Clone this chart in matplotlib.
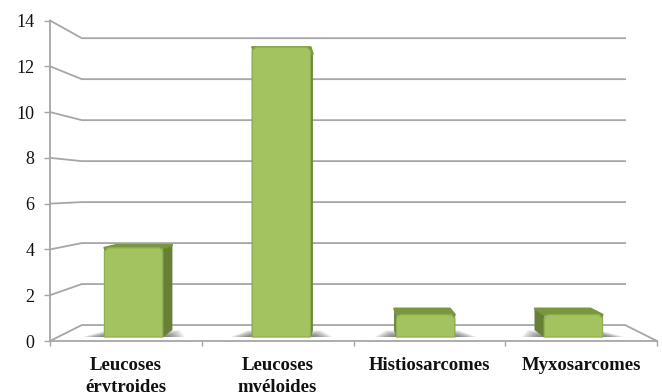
import numpy as np
import matplotlib
matplotlib.use('Agg')
import matplotlib.pyplot as plt
from matplotlib.patches import Polygon

categories = ['Leucoses\nérytroides', 'Leucoses\nmyéloides', 'Histiosarcomes', 'Myxosarcomes']
valeurs = [4, 13, 1, 1]
graduations = [0, 2, 4, 6, 8, 10, 12, 14]

GRIS = '#a6a6a6'
VERT_FACE = '#a2c35f'
VERT_BORD = '#8fb04e'
VERT_COTE = '#677f36'
VERT_HAUT = '#7a963f'

plt.rcParams['font.family'] = ['Liberation Serif', 'DejaVu Serif']

fig = plt.figure(figsize=(6.62, 3.92), dpi=100)
ax = fig.add_axes([50/662, (392-341)/392, 607/662, 320.5/392])
ax.set_xlim(0, 4)
ax.set_ylim(0, 14)

# point de fuite de la perspective, en unites des axes
cx, cy = 1.997, 6.64
recul = 0.105


def proj(x, v, d):
    # d=0 plan avant, d=1 mur du fond
    s = 1 - recul*d
    return (cx + (x-cx)*s, cy + (v-cy)*s)


# mur du fond et plancher
for g in graduations:
    pts = [proj(0, g, 0), proj(0, g, 1), proj(4, g, 1)]
    if g == 0:
        pts.append(proj(4, 0, 0))
    ax.plot(*zip(*pts), color=GRIS, lw=1.3, clip_on=False, zorder=1, solid_joinstyle='miter')

larg = 0.395
d1, d2 = 0.25, 0.70

for i, val in enumerate(valeurs):
    x1 = i + 0.5 - larg/2 + (0.012 if i < 2 else -0.012)
    x2 = x1 + larg

    # ombre portee sur le plancher, plus foncee pres de la barre
    for k in range(12):
        t = 1 - k/12
        e = 0.02 + 0.13*t
        prof = d1 + 0.42*t
        sol = [proj(x1-e, 0, d1), proj(x2+e, 0, d1), proj(x2+e*0.4, 0, prof), proj(x1-e*0.4, 0, prof)]
        ax.add_patch(Polygon(sol, closed=True, fc='#303030', ec='none', alpha=0.07, clip_on=False, zorder=2))

    # cotes, dessus puis face avant
    for x in (x1, x2):
        cote = [proj(x, 0, d1), proj(x, val, d1), proj(x, val, d2), proj(x, 0, d2)]
        ax.add_patch(Polygon(cote, closed=True, fc=VERT_COTE, ec=VERT_COTE, lw=0.5, clip_on=False, zorder=3))
    haut = [proj(x1, val, d1), proj(x2, val, d1), proj(x2, val, d2), proj(x1, val, d2)]
    ax.add_patch(Polygon(haut, closed=True, fc=VERT_HAUT, ec=VERT_HAUT, lw=1.6, joinstyle='round', clip_on=False, zorder=4))

    cx_coin, cy_coin = 0.024, 0.16
    face = [proj(x1, 0, d1), proj(x2, 0, d1), proj(x2, val-cy_coin, d1), proj(x2-cx_coin, val, d1),
            proj(x1+cx_coin, val, d1), proj(x1, val-cy_coin, d1)]
    ax.add_patch(Polygon(face, closed=True, fc=VERT_FACE, ec=VERT_BORD, lw=0.9, joinstyle='round', clip_on=False, zorder=5))

for cote in ['top', 'right']:
    ax.spines[cote].set_visible(False)
for cote in ['left', 'bottom']:
    ax.spines[cote].set_color(GRIS)
    ax.spines[cote].set_linewidth(1.3)
ax.patch.set_visible(False)

ax.set_yticks(graduations)
ax.set_yticklabels([str(g) for g in graduations], fontsize=13, color='#111111')
ax.tick_params(axis='y', color=GRIS, width=1.0, length=4, pad=7)

ax.set_xticks(range(5))
ax.set_xticklabels([])
ax.tick_params(axis='x', which='major', color=GRIS, width=1.0, length=3.5)
ax.set_xticks(np.arange(4) + 0.5, minor=True)
ax.set_xticklabels(categories, minor=True, fontsize=13.5, fontweight='bold', color='#111111', linespacing=1.38)
ax.tick_params(axis='x', which='minor', length=0, pad=11.5)

fig.savefig('out.png', dpi=100, facecolor='white')
